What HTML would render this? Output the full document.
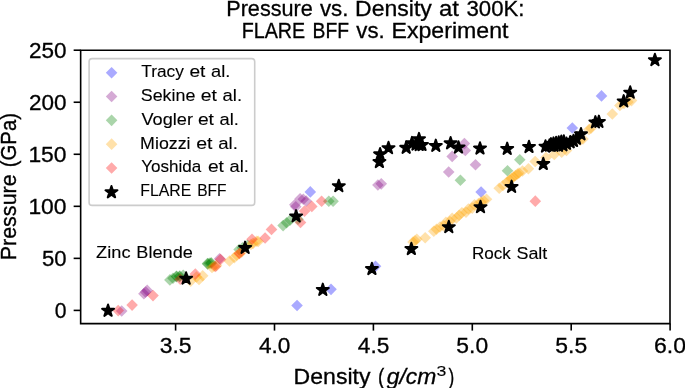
<!DOCTYPE html>
<html><head><meta charset="utf-8"><title>Pressure vs. Density at 300K</title>
<style>html,body{margin:0;padding:0;background:#fff;width:685px;height:388px;overflow:hidden}svg{display:block}text{font-family:"Liberation Sans",sans-serif;will-change:transform;stroke:#000;stroke-width:0.3px}</style>
</head><body>
<svg width="685" height="388" viewBox="0 0 685 388">
<rect width="685" height="388" fill="#fff"/>
<g>
<path d="M297.05 299.65L302.85 305.45L297.05 311.25L291.25 305.45Z" fill="#0000ff" fill-opacity="0.333"/>
<path d="M331.00 283.55L336.80 289.35L331.00 295.15L325.20 289.35Z" fill="#0000ff" fill-opacity="0.333"/>
<path d="M310.30 186.10L316.10 191.90L310.30 197.70L304.50 191.90Z" fill="#0000ff" fill-opacity="0.333"/>
<path d="M375.50 260.55L381.30 266.35L375.50 272.15L369.70 266.35Z" fill="#0000ff" fill-opacity="0.333"/>
<path d="M481.10 186.20L486.90 192.00L481.10 197.80L475.30 192.00Z" fill="#0000ff" fill-opacity="0.333"/>
<path d="M572.30 122.20L578.10 128.00L572.30 133.80L566.50 128.00Z" fill="#0000ff" fill-opacity="0.333"/>
<path d="M601.50 90.10L607.30 95.90L601.50 101.70L595.70 95.90Z" fill="#0000ff" fill-opacity="0.333"/>
<path d="M121.70 305.20L127.50 311.00L121.70 316.80L115.90 311.00Z" fill="#800080" fill-opacity="0.333"/>
<path d="M143.90 288.00L149.70 293.80L143.90 299.60L138.10 293.80Z" fill="#800080" fill-opacity="0.333"/>
<path d="M145.60 286.20L151.40 292.00L145.60 297.80L139.80 292.00Z" fill="#800080" fill-opacity="0.333"/>
<path d="M147.20 284.60L153.00 290.40L147.20 296.20L141.40 290.40Z" fill="#800080" fill-opacity="0.333"/>
<path d="M219.60 252.90L225.40 258.70L219.60 264.50L213.80 258.70Z" fill="#800080" fill-opacity="0.333"/>
<path d="M300.10 193.00L305.90 198.80L300.10 204.60L294.30 198.80Z" fill="#800080" fill-opacity="0.333"/>
<path d="M303.30 193.50L309.10 199.30L303.30 205.10L297.50 199.30Z" fill="#800080" fill-opacity="0.333"/>
<path d="M306.20 195.20L312.00 201.00L306.20 206.80L300.40 201.00Z" fill="#800080" fill-opacity="0.333"/>
<path d="M294.80 198.90L300.60 204.70L294.80 210.50L289.00 204.70Z" fill="#800080" fill-opacity="0.333"/>
<path d="M295.80 201.00L301.60 206.80L295.80 212.60L290.00 206.80Z" fill="#800080" fill-opacity="0.333"/>
<path d="M377.90 179.20L383.70 185.00L377.90 190.80L372.10 185.00Z" fill="#800080" fill-opacity="0.333"/>
<path d="M381.25 178.05L387.05 183.85L381.25 189.65L375.45 183.85Z" fill="#800080" fill-opacity="0.333"/>
<path d="M448.70 166.20L454.50 172.00L448.70 177.80L442.90 172.00Z" fill="#800080" fill-opacity="0.333"/>
<path d="M452.20 150.60L458.00 156.40L452.20 162.20L446.40 156.40Z" fill="#800080" fill-opacity="0.333"/>
<path d="M464.40 137.80L470.20 143.60L464.40 149.40L458.60 143.60Z" fill="#800080" fill-opacity="0.333"/>
<path d="M465.30 144.70L471.10 150.50L465.30 156.30L459.50 150.50Z" fill="#800080" fill-opacity="0.333"/>
<path d="M475.50 158.90L481.30 164.70L475.50 170.50L469.70 164.70Z" fill="#800080" fill-opacity="0.333"/>
<path d="M169.90 274.10L175.70 279.90L169.90 285.70L164.10 279.90Z" fill="#008000" fill-opacity="0.333"/>
<path d="M173.00 272.50L178.80 278.30L173.00 284.10L167.20 278.30Z" fill="#008000" fill-opacity="0.333"/>
<path d="M176.60 270.40L182.40 276.20L176.60 282.00L170.80 276.20Z" fill="#008000" fill-opacity="0.333"/>
<path d="M176.40 270.80L182.20 276.60L176.40 282.40L170.60 276.60Z" fill="#008000" fill-opacity="0.333"/>
<path d="M179.80 270.20L185.60 276.00L179.80 281.80L174.00 276.00Z" fill="#008000" fill-opacity="0.333"/>
<path d="M179.50 270.80L185.30 276.60L179.50 282.40L173.70 276.60Z" fill="#008000" fill-opacity="0.333"/>
<path d="M183.20 269.50L189.00 275.30L183.20 281.10L177.40 275.30Z" fill="#008000" fill-opacity="0.333"/>
<path d="M207.50 257.80L213.30 263.60L207.50 269.40L201.70 263.60Z" fill="#008000" fill-opacity="0.333"/>
<path d="M207.70 258.10L213.50 263.90L207.70 269.70L201.90 263.90Z" fill="#008000" fill-opacity="0.333"/>
<path d="M209.40 257.40L215.20 263.20L209.40 269.00L203.60 263.20Z" fill="#008000" fill-opacity="0.333"/>
<path d="M211.20 257.10L217.00 262.90L211.20 268.70L205.40 262.90Z" fill="#008000" fill-opacity="0.333"/>
<path d="M211.00 257.50L216.80 263.30L211.00 269.10L205.20 263.30Z" fill="#008000" fill-opacity="0.333"/>
<path d="M239.10 243.80L244.90 249.60L239.10 255.40L233.30 249.60Z" fill="#008000" fill-opacity="0.333"/>
<path d="M242.50 242.00L248.30 247.80L242.50 253.60L236.70 247.80Z" fill="#008000" fill-opacity="0.333"/>
<path d="M247.50 239.50L253.30 245.30L247.50 251.10L241.70 245.30Z" fill="#008000" fill-opacity="0.333"/>
<path d="M283.10 219.80L288.90 225.60L283.10 231.40L277.30 225.60Z" fill="#008000" fill-opacity="0.333"/>
<path d="M286.60 217.00L292.40 222.80L286.60 228.60L280.80 222.80Z" fill="#008000" fill-opacity="0.333"/>
<path d="M290.00 214.50L295.80 220.30L290.00 226.10L284.20 220.30Z" fill="#008000" fill-opacity="0.333"/>
<path d="M298.00 213.50L303.80 219.30L298.00 225.10L292.20 219.30Z" fill="#008000" fill-opacity="0.333"/>
<path d="M328.80 195.50L334.60 201.30L328.80 207.10L323.00 201.30Z" fill="#008000" fill-opacity="0.333"/>
<path d="M333.10 195.40L338.90 201.20L333.10 207.00L327.30 201.20Z" fill="#008000" fill-opacity="0.333"/>
<path d="M460.40 174.40L466.20 180.20L460.40 186.00L454.60 180.20Z" fill="#008000" fill-opacity="0.333"/>
<path d="M507.50 164.90L513.30 170.70L507.50 176.50L501.70 170.70Z" fill="#008000" fill-opacity="0.333"/>
<path d="M519.80 153.90L525.60 159.70L519.80 165.50L514.00 159.70Z" fill="#008000" fill-opacity="0.333"/>
<path d="M190.70 275.30L196.50 281.10L190.70 286.90L184.90 281.10Z" fill="#ffa500" fill-opacity="0.333"/>
<path d="M196.50 271.20L202.30 277.00L196.50 282.80L190.70 277.00Z" fill="#ffa500" fill-opacity="0.333"/>
<path d="M202.70 269.90L208.50 275.70L202.70 281.50L196.90 275.70Z" fill="#ffa500" fill-opacity="0.333"/>
<path d="M199.00 273.70L204.80 279.50L199.00 285.30L193.20 279.50Z" fill="#ffa500" fill-opacity="0.333"/>
<path d="M212.00 261.70L217.80 267.50L212.00 273.30L206.20 267.50Z" fill="#ffa500" fill-opacity="0.333"/>
<path d="M214.10 260.40L219.90 266.20L214.10 272.00L208.30 266.20Z" fill="#ffa500" fill-opacity="0.333"/>
<path d="M216.50 259.70L222.30 265.50L216.50 271.30L210.70 265.50Z" fill="#ffa500" fill-opacity="0.333"/>
<path d="M229.50 255.20L235.30 261.00L229.50 266.80L223.70 261.00Z" fill="#ffa500" fill-opacity="0.333"/>
<path d="M234.40 251.80L240.20 257.60L234.40 263.40L228.60 257.60Z" fill="#ffa500" fill-opacity="0.333"/>
<path d="M236.80 249.50L242.60 255.30L236.80 261.10L231.00 255.30Z" fill="#ffa500" fill-opacity="0.333"/>
<path d="M239.40 247.70L245.20 253.50L239.40 259.30L233.60 253.50Z" fill="#ffa500" fill-opacity="0.333"/>
<path d="M241.80 246.20L247.60 252.00L241.80 257.80L236.00 252.00Z" fill="#ffa500" fill-opacity="0.333"/>
<path d="M251.00 238.70L256.80 244.50L251.00 250.30L245.20 244.50Z" fill="#ffa500" fill-opacity="0.333"/>
<path d="M253.00 237.60L258.80 243.40L253.00 249.20L247.20 243.40Z" fill="#ffa500" fill-opacity="0.333"/>
<path d="M256.70 235.40L262.50 241.20L256.70 247.00L250.90 241.20Z" fill="#ffa500" fill-opacity="0.333"/>
<path d="M258.20 235.60L264.00 241.40L258.20 247.20L252.40 241.40Z" fill="#ffa500" fill-opacity="0.333"/>
<path d="M413.00 236.30L418.80 242.10L413.00 247.90L407.20 242.10Z" fill="#ffa500" fill-opacity="0.333"/>
<path d="M415.00 235.00L420.80 240.80L415.00 246.60L409.20 240.80Z" fill="#ffa500" fill-opacity="0.333"/>
<path d="M416.80 233.40L422.60 239.20L416.80 245.00L411.00 239.20Z" fill="#ffa500" fill-opacity="0.333"/>
<path d="M425.20 231.90L431.00 237.70L425.20 243.50L419.40 237.70Z" fill="#ffa500" fill-opacity="0.333"/>
<path d="M433.80 225.50L439.60 231.30L433.80 237.10L428.00 231.30Z" fill="#ffa500" fill-opacity="0.333"/>
<path d="M436.50 223.50L442.30 229.30L436.50 235.10L430.70 229.30Z" fill="#ffa500" fill-opacity="0.333"/>
<path d="M440.00 221.20L445.80 227.00L440.00 232.80L434.20 227.00Z" fill="#ffa500" fill-opacity="0.333"/>
<path d="M443.70 220.10L449.50 225.90L443.70 231.70L437.90 225.90Z" fill="#ffa500" fill-opacity="0.333"/>
<path d="M445.90 216.60L451.70 222.40L445.90 228.20L440.10 222.40Z" fill="#ffa500" fill-opacity="0.333"/>
<path d="M449.90 215.80L455.70 221.60L449.90 227.40L444.10 221.60Z" fill="#ffa500" fill-opacity="0.333"/>
<path d="M452.20 212.50L458.00 218.30L452.20 224.10L446.40 218.30Z" fill="#ffa500" fill-opacity="0.333"/>
<path d="M456.40 212.20L462.20 218.00L456.40 223.80L450.60 218.00Z" fill="#ffa500" fill-opacity="0.333"/>
<path d="M459.10 209.50L464.90 215.30L459.10 221.10L453.30 215.30Z" fill="#ffa500" fill-opacity="0.333"/>
<path d="M461.90 206.90L467.70 212.70L461.90 218.50L456.10 212.70Z" fill="#ffa500" fill-opacity="0.333"/>
<path d="M466.00 206.50L471.80 212.30L466.00 218.10L460.20 212.30Z" fill="#ffa500" fill-opacity="0.333"/>
<path d="M468.40 203.20L474.20 209.00L468.40 214.80L462.60 209.00Z" fill="#ffa500" fill-opacity="0.333"/>
<path d="M472.20 202.30L478.00 208.10L472.20 213.90L466.40 208.10Z" fill="#ffa500" fill-opacity="0.333"/>
<path d="M474.50 198.90L480.30 204.70L474.50 210.50L468.70 204.70Z" fill="#ffa500" fill-opacity="0.333"/>
<path d="M478.50 197.70L484.30 203.50L478.50 209.30L472.70 203.50Z" fill="#ffa500" fill-opacity="0.333"/>
<path d="M481.00 196.20L486.80 202.00L481.00 207.80L475.20 202.00Z" fill="#ffa500" fill-opacity="0.333"/>
<path d="M483.50 194.70L489.30 200.50L483.50 206.30L477.70 200.50Z" fill="#ffa500" fill-opacity="0.333"/>
<path d="M486.50 193.50L492.30 199.30L486.50 205.10L480.70 199.30Z" fill="#ffa500" fill-opacity="0.333"/>
<path d="M499.20 182.50L505.00 188.30L499.20 194.10L493.40 188.30Z" fill="#ffa500" fill-opacity="0.333"/>
<path d="M503.00 179.70L508.80 185.50L503.00 191.30L497.20 185.50Z" fill="#ffa500" fill-opacity="0.333"/>
<path d="M507.00 176.20L512.80 182.00L507.00 187.80L501.20 182.00Z" fill="#ffa500" fill-opacity="0.333"/>
<path d="M509.50 174.20L515.30 180.00L509.50 185.80L503.70 180.00Z" fill="#ffa500" fill-opacity="0.333"/>
<path d="M511.50 172.70L517.30 178.50L511.50 184.30L505.70 178.50Z" fill="#ffa500" fill-opacity="0.333"/>
<path d="M513.50 171.20L519.30 177.00L513.50 182.80L507.70 177.00Z" fill="#ffa500" fill-opacity="0.333"/>
<path d="M515.50 169.70L521.30 175.50L515.50 181.30L509.70 175.50Z" fill="#ffa500" fill-opacity="0.333"/>
<path d="M517.50 168.20L523.30 174.00L517.50 179.80L511.70 174.00Z" fill="#ffa500" fill-opacity="0.333"/>
<path d="M519.00 167.20L524.80 173.00L519.00 178.80L513.20 173.00Z" fill="#ffa500" fill-opacity="0.333"/>
<path d="M522.50 165.20L528.30 171.00L522.50 176.80L516.70 171.00Z" fill="#ffa500" fill-opacity="0.333"/>
<path d="M528.40 163.00L534.20 168.80L528.40 174.60L522.60 168.80Z" fill="#ffa500" fill-opacity="0.333"/>
<path d="M535.20 155.70L541.00 161.50L535.20 167.30L529.40 161.50Z" fill="#ffa500" fill-opacity="0.333"/>
<path d="M546.00 151.70L551.80 157.50L546.00 163.30L540.20 157.50Z" fill="#ffa500" fill-opacity="0.333"/>
<path d="M554.30 148.70L560.10 154.50L554.30 160.30L548.50 154.50Z" fill="#ffa500" fill-opacity="0.333"/>
<path d="M561.70 146.50L567.50 152.30L561.70 158.10L555.90 152.30Z" fill="#ffa500" fill-opacity="0.333"/>
<path d="M566.50 144.70L572.30 150.50L566.50 156.30L560.70 150.50Z" fill="#ffa500" fill-opacity="0.333"/>
<path d="M580.30 134.50L586.10 140.30L580.30 146.10L574.50 140.30Z" fill="#ffa500" fill-opacity="0.333"/>
<path d="M583.00 133.20L588.80 139.00L583.00 144.80L577.20 139.00Z" fill="#ffa500" fill-opacity="0.333"/>
<path d="M589.00 123.70L594.80 129.50L589.00 135.30L583.20 129.50Z" fill="#ffa500" fill-opacity="0.333"/>
<path d="M591.00 122.50L596.80 128.30L591.00 134.10L585.20 128.30Z" fill="#ffa500" fill-opacity="0.333"/>
<path d="M612.30 108.20L618.10 114.00L612.30 119.80L606.50 114.00Z" fill="#ffa500" fill-opacity="0.333"/>
<path d="M619.90 99.70L625.70 105.50L619.90 111.30L614.10 105.50Z" fill="#ffa500" fill-opacity="0.333"/>
<path d="M624.00 97.70L629.80 103.50L624.00 109.30L618.20 103.50Z" fill="#ffa500" fill-opacity="0.333"/>
<path d="M628.00 96.20L633.80 102.00L628.00 107.80L622.20 102.00Z" fill="#ffa500" fill-opacity="0.333"/>
<path d="M631.50 94.80L637.30 100.60L631.50 106.40L625.70 100.60Z" fill="#ffa500" fill-opacity="0.333"/>
<path d="M118.20 304.80L124.00 310.60L118.20 316.40L112.40 310.60Z" fill="#ff0000" fill-opacity="0.333"/>
<path d="M132.10 299.30L137.90 305.10L132.10 310.90L126.30 305.10Z" fill="#ff0000" fill-opacity="0.333"/>
<path d="M153.00 289.80L158.80 295.60L153.00 301.40L147.20 295.60Z" fill="#ff0000" fill-opacity="0.333"/>
<path d="M180.20 273.40L186.00 279.20L180.20 285.00L174.40 279.20Z" fill="#ff0000" fill-opacity="0.333"/>
<path d="M195.30 268.30L201.10 274.10L195.30 279.90L189.50 274.10Z" fill="#ff0000" fill-opacity="0.333"/>
<path d="M215.50 260.70L221.30 266.50L215.50 272.30L209.70 266.50Z" fill="#ff0000" fill-opacity="0.333"/>
<path d="M220.50 253.70L226.30 259.50L220.50 265.30L214.70 259.50Z" fill="#ff0000" fill-opacity="0.333"/>
<path d="M239.40 247.70L245.20 253.50L239.40 259.30L233.60 253.50Z" fill="#ff0000" fill-opacity="0.333"/>
<path d="M252.00 233.50L257.80 239.30L252.00 245.10L246.20 239.30Z" fill="#ff0000" fill-opacity="0.333"/>
<path d="M265.10 232.20L270.90 238.00L265.10 243.80L259.30 238.00Z" fill="#ff0000" fill-opacity="0.333"/>
<path d="M271.50 223.60L277.30 229.40L271.50 235.20L265.70 229.40Z" fill="#ff0000" fill-opacity="0.333"/>
<path d="M300.50 216.70L306.30 222.50L300.50 228.30L294.70 222.50Z" fill="#ff0000" fill-opacity="0.333"/>
<path d="M304.60 205.30L310.40 211.10L304.60 216.90L298.80 211.10Z" fill="#ff0000" fill-opacity="0.333"/>
<path d="M311.80 200.60L317.60 206.40L311.80 212.20L306.00 206.40Z" fill="#ff0000" fill-opacity="0.333"/>
<path d="M321.60 195.50L327.40 201.30L321.60 207.10L315.80 201.30Z" fill="#ff0000" fill-opacity="0.333"/>
<path d="M535.30 195.35L541.10 201.15L535.30 206.95L529.50 201.15Z" fill="#ff0000" fill-opacity="0.333"/>
</g>
<g fill="#000" stroke="#000" stroke-width="2.0" stroke-linejoin="round">
<path d="M108.05 304.45L109.46 308.80L114.04 308.80L110.34 311.49L111.75 315.85L108.05 313.16L104.35 315.85L105.76 311.49L102.06 308.80L106.64 308.80Z"/>
<path d="M186.10 272.30L187.51 276.65L192.09 276.65L188.39 279.34L189.80 283.70L186.10 281.01L182.40 283.70L183.81 279.34L180.11 276.65L184.69 276.65Z"/>
<path d="M245.10 241.60L246.51 245.95L251.09 245.95L247.39 248.64L248.80 253.00L245.10 250.31L241.40 253.00L242.81 248.64L239.11 245.95L243.69 245.95Z"/>
<path d="M296.10 210.10L297.51 214.45L302.09 214.45L298.39 217.14L299.80 221.50L296.10 218.81L292.40 221.50L293.81 217.14L290.11 214.45L294.69 214.45Z"/>
<path d="M338.80 179.80L340.21 184.15L344.79 184.15L341.09 186.84L342.50 191.20L338.80 188.51L335.10 191.20L336.51 186.84L332.81 184.15L337.39 184.15Z"/>
<path d="M322.80 283.60L324.21 287.95L328.79 287.95L325.09 290.64L326.50 295.00L322.80 292.31L319.10 295.00L320.51 290.64L316.81 287.95L321.39 287.95Z"/>
<path d="M371.90 262.70L373.31 267.05L377.89 267.05L374.19 269.74L375.60 274.10L371.90 271.41L368.20 274.10L369.61 269.74L365.91 267.05L370.49 267.05Z"/>
<path d="M411.35 242.70L412.76 247.05L417.34 247.05L413.64 249.74L415.05 254.10L411.35 251.41L407.65 254.10L409.06 249.74L405.36 247.05L409.94 247.05Z"/>
<path d="M448.80 220.80L450.21 225.15L454.79 225.15L451.09 227.84L452.50 232.20L448.80 229.51L445.10 232.20L446.51 227.84L442.81 225.15L447.39 225.15Z"/>
<path d="M480.50 200.80L481.91 205.15L486.49 205.15L482.79 207.84L484.20 212.20L480.50 209.51L476.80 212.20L478.21 207.84L474.51 205.15L479.09 205.15Z"/>
<path d="M511.60 180.60L513.01 184.95L517.59 184.95L513.89 187.64L515.30 192.00L511.60 189.31L507.90 192.00L509.31 187.64L505.61 184.95L510.19 184.95Z"/>
<path d="M543.30 157.70L544.71 162.05L549.29 162.05L545.59 164.74L547.00 169.10L543.30 166.41L539.60 169.10L541.01 164.74L537.31 162.05L541.89 162.05Z"/>
<path d="M379.40 155.70L380.81 160.05L385.39 160.05L381.69 162.74L383.10 167.10L379.40 164.41L375.70 167.10L377.11 162.74L373.41 160.05L377.99 160.05Z"/>
<path d="M380.10 148.00L381.51 152.35L386.09 152.35L382.39 155.04L383.80 159.40L380.10 156.71L376.40 159.40L377.81 155.04L374.11 152.35L378.69 152.35Z"/>
<path d="M388.50 141.80L389.91 146.15L394.49 146.15L390.79 148.84L392.20 153.20L388.50 150.51L384.80 153.20L386.21 148.84L382.51 146.15L387.09 146.15Z"/>
<path d="M406.20 141.50L407.61 145.85L412.19 145.85L408.49 148.54L409.90 152.90L406.20 150.21L402.50 152.90L403.91 148.54L400.21 145.85L404.79 145.85Z"/>
<path d="M412.00 136.90L413.41 141.25L417.99 141.25L414.29 143.94L415.70 148.30L412.00 145.61L408.30 148.30L409.71 143.94L406.01 141.25L410.59 141.25Z"/>
<path d="M416.00 138.20L417.41 142.55L421.99 142.55L418.29 145.24L419.70 149.60L416.00 146.91L412.30 149.60L413.71 145.24L410.01 142.55L414.59 142.55Z"/>
<path d="M419.00 132.90L420.41 137.25L424.99 137.25L421.29 139.94L422.70 144.30L419.00 141.61L415.30 144.30L416.71 139.94L413.01 137.25L417.59 137.25Z"/>
<path d="M419.20 138.70L420.61 143.05L425.19 143.05L421.49 145.74L422.90 150.10L419.20 147.41L415.50 150.10L416.91 145.74L413.21 143.05L417.79 143.05Z"/>
<path d="M422.00 138.70L423.41 143.05L427.99 143.05L424.29 145.74L425.70 150.10L422.00 147.41L418.30 150.10L419.71 145.74L416.01 143.05L420.59 143.05Z"/>
<path d="M435.80 139.60L437.21 143.95L441.79 143.95L438.09 146.64L439.50 151.00L435.80 148.31L432.10 151.00L433.51 146.64L429.81 143.95L434.39 143.95Z"/>
<path d="M450.60 137.00L452.01 141.35L456.59 141.35L452.89 144.04L454.30 148.40L450.60 145.71L446.90 148.40L448.31 144.04L444.61 141.35L449.19 141.35Z"/>
<path d="M458.50 141.20L459.91 145.55L464.49 145.55L460.79 148.24L462.20 152.60L458.50 149.91L454.80 152.60L456.21 148.24L452.51 145.55L457.09 145.55Z"/>
<path d="M480.00 142.20L481.41 146.55L485.99 146.55L482.29 149.24L483.70 153.60L480.00 150.91L476.30 153.60L477.71 149.24L474.01 146.55L478.59 146.55Z"/>
<path d="M507.20 142.60L508.61 146.95L513.19 146.95L509.49 149.64L510.90 154.00L507.20 151.31L503.50 154.00L504.91 149.64L501.21 146.95L505.79 146.95Z"/>
<path d="M529.00 140.70L530.41 145.05L534.99 145.05L531.29 147.74L532.70 152.10L529.00 149.41L525.30 152.10L526.71 147.74L523.01 145.05L527.59 145.05Z"/>
<path d="M545.50 140.30L546.91 144.65L551.49 144.65L547.79 147.34L549.20 151.70L545.50 149.01L541.80 151.70L543.21 147.34L539.51 144.65L544.09 144.65Z"/>
<path d="M551.00 138.10L552.41 142.45L556.99 142.45L553.29 145.14L554.70 149.50L551.00 146.81L547.30 149.50L548.71 145.14L545.01 142.45L549.59 142.45Z"/>
<path d="M553.50 137.40L554.91 141.75L559.49 141.75L555.79 144.44L557.20 148.80L553.50 146.11L549.80 148.80L551.21 144.44L547.51 141.75L552.09 141.75Z"/>
<path d="M556.10 136.80L557.51 141.15L562.09 141.15L558.39 143.84L559.80 148.20L556.10 145.51L552.40 148.20L553.81 143.84L550.11 141.15L554.69 141.15Z"/>
<path d="M558.70 136.20L560.11 140.55L564.69 140.55L560.99 143.24L562.40 147.60L558.70 144.91L555.00 147.60L556.41 143.24L552.71 140.55L557.29 140.55Z"/>
<path d="M561.30 135.50L562.71 139.85L567.29 139.85L563.59 142.54L565.00 146.90L561.30 144.21L557.60 146.90L559.01 142.54L555.31 139.85L559.89 139.85Z"/>
<path d="M563.80 135.20L565.21 139.55L569.79 139.55L566.09 142.24L567.50 146.60L563.80 143.91L560.10 146.60L561.51 142.24L557.81 139.55L562.39 139.55Z"/>
<path d="M549.50 139.40L550.91 143.75L555.49 143.75L551.79 146.44L553.20 150.80L549.50 148.11L545.80 150.80L547.21 146.44L543.51 143.75L548.09 143.75Z"/>
<path d="M554.00 139.50L555.41 143.85L559.99 143.85L556.29 146.54L557.70 150.90L554.00 148.21L550.30 150.90L551.71 146.54L548.01 143.85L552.59 143.85Z"/>
<path d="M558.50 139.50L559.91 143.85L564.49 143.85L560.79 146.54L562.20 150.90L558.50 148.21L554.80 150.90L556.21 146.54L552.51 143.85L557.09 143.85Z"/>
<path d="M563.00 139.00L564.41 143.35L568.99 143.35L565.29 146.04L566.70 150.40L563.00 147.71L559.30 150.40L560.71 146.04L557.01 143.35L561.59 143.35Z"/>
<path d="M566.50 137.50L567.91 141.85L572.49 141.85L568.79 144.54L570.20 148.90L566.50 146.21L562.80 148.90L564.21 144.54L560.51 141.85L565.09 141.85Z"/>
<path d="M570.20 136.00L571.61 140.35L576.19 140.35L572.49 143.04L573.90 147.40L570.20 144.71L566.50 147.40L567.91 143.04L564.21 140.35L568.79 140.35Z"/>
<path d="M573.50 134.70L574.91 139.05L579.49 139.05L575.79 141.74L577.20 146.10L573.50 143.41L569.80 146.10L571.21 141.74L567.51 139.05L572.09 139.05Z"/>
<path d="M576.50 132.50L577.91 136.85L582.49 136.85L578.79 139.54L580.20 143.90L576.50 141.21L572.80 143.90L574.21 139.54L570.51 136.85L575.09 136.85Z"/>
<path d="M581.00 128.00L582.41 132.35L586.99 132.35L583.29 135.04L584.70 139.40L581.00 136.71L577.30 139.40L578.71 135.04L575.01 132.35L579.59 132.35Z"/>
<path d="M595.40 116.10L596.81 120.45L601.39 120.45L597.69 123.14L599.10 127.50L595.40 124.81L591.70 127.50L593.11 123.14L589.41 120.45L593.99 120.45Z"/>
<path d="M598.90 115.60L600.31 119.95L604.89 119.95L601.19 122.64L602.60 127.00L598.90 124.31L595.20 127.00L596.61 122.64L592.91 119.95L597.49 119.95Z"/>
<path d="M623.70 95.10L625.11 99.45L629.69 99.45L625.99 102.14L627.40 106.50L623.70 103.81L620.00 106.50L621.41 102.14L617.71 99.45L622.29 99.45Z"/>
<path d="M630.20 86.30L631.61 90.65L636.19 90.65L632.49 93.34L633.90 97.70L630.20 95.01L626.50 97.70L627.91 93.34L624.21 90.65L628.79 90.65Z"/>
<path d="M654.90 53.80L656.31 58.15L660.89 58.15L657.19 60.84L658.60 65.20L654.90 62.51L651.20 65.20L652.61 60.84L648.91 58.15L653.49 58.15Z"/>
</g>
<g fill="none" stroke="#000" stroke-width="1.6" stroke-linecap="square">
<path d="M80.65 323.6L80.65 50.2L670.0 50.2L670.0 323.6Z" stroke-linejoin="miter"/>
</g>
<g stroke="#000" stroke-width="1.6">
<line x1="175.60" y1="323.6" x2="175.60" y2="330.6"/>
<line x1="274.50" y1="323.6" x2="274.50" y2="330.6"/>
<line x1="373.40" y1="323.6" x2="373.40" y2="330.6"/>
<line x1="472.30" y1="323.6" x2="472.30" y2="330.6"/>
<line x1="571.20" y1="323.6" x2="571.20" y2="330.6"/>
<line x1="670.10" y1="323.6" x2="670.10" y2="330.6"/>
<line x1="80.65" y1="310.40" x2="73.65" y2="310.40"/>
<line x1="80.65" y1="258.36" x2="73.65" y2="258.36"/>
<line x1="80.65" y1="206.32" x2="73.65" y2="206.32"/>
<line x1="80.65" y1="154.28" x2="73.65" y2="154.28"/>
<line x1="80.65" y1="102.24" x2="73.65" y2="102.24"/>
<line x1="80.65" y1="50.20" x2="73.65" y2="50.20"/>
</g>
<g font-family="Liberation Sans, sans-serif" fill="#000">
<text x="54.75" y="317.70" font-size="21.2" textLength="11.77" lengthAdjust="spacingAndGlyphs">0</text>
<text x="41.97" y="265.66" font-size="21.2" textLength="24.59" lengthAdjust="spacingAndGlyphs">50</text>
<text x="28.40" y="213.62" font-size="21.2" textLength="38.20" lengthAdjust="spacingAndGlyphs">100</text>
<text x="28.40" y="161.58" font-size="21.2" textLength="38.20" lengthAdjust="spacingAndGlyphs">150</text>
<text x="29.01" y="109.54" font-size="21.2" textLength="37.57" lengthAdjust="spacingAndGlyphs">200</text>
<text x="29.01" y="57.50" font-size="21.2" textLength="37.57" lengthAdjust="spacingAndGlyphs">250</text>
<text x="159.73" y="352.80" font-size="21.2" textLength="31.83" lengthAdjust="spacingAndGlyphs">3.5</text>
<text x="258.98" y="352.80" font-size="21.2" textLength="31.40" lengthAdjust="spacingAndGlyphs">4.0</text>
<text x="357.88" y="352.80" font-size="21.2" textLength="31.47" lengthAdjust="spacingAndGlyphs">4.5</text>
<text x="456.38" y="352.80" font-size="21.2" textLength="31.81" lengthAdjust="spacingAndGlyphs">5.0</text>
<text x="555.28" y="352.80" font-size="21.2" textLength="31.88" lengthAdjust="spacingAndGlyphs">5.5</text>
<text x="653.93" y="352.80" font-size="21.2" textLength="32.07" lengthAdjust="spacingAndGlyphs">6.0</text>
<text x="226.22" y="15.50" font-size="21.2" textLength="86.59" lengthAdjust="spacingAndGlyphs">Pressure</text>
<text x="319.94" y="15.50" font-size="21.2" textLength="28.43" lengthAdjust="spacingAndGlyphs">vs.</text>
<text x="355.12" y="15.50" font-size="21.2" textLength="76.73" lengthAdjust="spacingAndGlyphs">Density</text>
<text x="439.08" y="15.50" font-size="21.2" textLength="19.94" lengthAdjust="spacingAndGlyphs">at</text>
<text x="466.51" y="15.50" font-size="21.2" textLength="58.01" lengthAdjust="spacingAndGlyphs">300K:</text>
<text x="241.68" y="37.60" font-size="21.2" textLength="63.50" lengthAdjust="spacingAndGlyphs">FLARE</text>
<text x="312.50" y="37.60" font-size="21.2" textLength="36.50" lengthAdjust="spacingAndGlyphs">BFF</text>
<text x="356.39" y="37.60" font-size="21.2" textLength="28.37" lengthAdjust="spacingAndGlyphs">vs.</text>
<text x="391.49" y="37.60" font-size="21.2" textLength="116.98" lengthAdjust="spacingAndGlyphs">Experiment</text>
<text x="293.61" y="383.70" font-size="21.2" textLength="76.84" lengthAdjust="spacingAndGlyphs">Density</text>
<text x="378.03" y="383.70" font-size="21.2" textLength="6.28" lengthAdjust="spacingAndGlyphs">(</text>
<text x="386.76" y="383.70" font-size="21.2" textLength="49.61" lengthAdjust="spacingAndGlyphs" font-style="italic">g/cm</text>
<text x="436.43" y="376.40" font-size="14.6" textLength="9.85" lengthAdjust="spacingAndGlyphs" style="stroke-width:0.12px">3</text>
<text x="448.50" y="383.70" font-size="21.2" textLength="5.78" lengthAdjust="spacingAndGlyphs">)</text>
<g transform="translate(16.0 0) rotate(-90)">
<text x="-260.36" y="0.00" font-size="21.2" textLength="86.08" lengthAdjust="spacingAndGlyphs">Pressure</text>
<text x="-167.25" y="0.00" font-size="21.2" textLength="54.21" lengthAdjust="spacingAndGlyphs">(GPa)</text>
</g>
<text x="96.12" y="258.00" font-size="17" textLength="34.40" lengthAdjust="spacingAndGlyphs" style="stroke-width:0.12px">Zinc</text>
<text x="136.37" y="258.00" font-size="17" textLength="56.43" lengthAdjust="spacingAndGlyphs" style="stroke-width:0.12px">Blende</text>
<text x="472.00" y="258.50" font-size="17" textLength="38.89" lengthAdjust="spacingAndGlyphs" style="stroke-width:0.12px">Rock</text>
<text x="516.44" y="258.50" font-size="17" textLength="30.89" lengthAdjust="spacingAndGlyphs" style="stroke-width:0.12px">Salt</text>
</g>
<rect x="89.1" y="58.6" width="165.6" height="146.8" rx="3" ry="3" fill="#fff" fill-opacity="0.8" stroke="#cccccc" stroke-width="1.6"/>
<path d="M111.60 66.90L117.40 72.70L111.60 78.50L105.80 72.70Z" fill="#0000ff" fill-opacity="0.333"/>
<path d="M111.60 90.72L117.40 96.52L111.60 102.32L105.80 96.52Z" fill="#800080" fill-opacity="0.333"/>
<path d="M111.60 114.54L117.40 120.34L111.60 126.14L105.80 120.34Z" fill="#008000" fill-opacity="0.333"/>
<path d="M111.60 138.36L117.40 144.16L111.60 149.96L105.80 144.16Z" fill="#ffa500" fill-opacity="0.333"/>
<path d="M111.60 162.18L117.40 167.98L111.60 173.78L105.80 167.98Z" fill="#ff0000" fill-opacity="0.333"/>
<path d="M111.45 185.95L112.86 190.30L117.44 190.30L113.74 192.99L115.15 197.35L111.45 194.66L107.75 197.35L109.16 192.99L105.46 190.30L110.04 190.30Z" fill="#000" stroke="#000" stroke-width="2.0" stroke-linejoin="round"/>
<g font-family="Liberation Sans, sans-serif" fill="#000">
<text x="141.22" y="77.10" font-size="17" textLength="42.58" lengthAdjust="spacingAndGlyphs" style="stroke-width:0.12px">Tracy</text>
<text x="189.48" y="77.10" font-size="17" textLength="15.99" lengthAdjust="spacingAndGlyphs" style="stroke-width:0.12px">et</text>
<text x="211.07" y="77.10" font-size="17" textLength="19.30" lengthAdjust="spacingAndGlyphs" style="stroke-width:0.12px">al.</text>
<text x="140.79" y="100.92" font-size="17" textLength="54.61" lengthAdjust="spacingAndGlyphs" style="stroke-width:0.12px">Sekine</text>
<text x="200.76" y="100.92" font-size="17" textLength="16.16" lengthAdjust="spacingAndGlyphs" style="stroke-width:0.12px">et</text>
<text x="222.58" y="100.92" font-size="17" textLength="19.51" lengthAdjust="spacingAndGlyphs" style="stroke-width:0.12px">al.</text>
<text x="141.52" y="124.74" font-size="17" textLength="51.47" lengthAdjust="spacingAndGlyphs" style="stroke-width:0.12px">Vogler</text>
<text x="197.93" y="124.74" font-size="17" textLength="16.01" lengthAdjust="spacingAndGlyphs" style="stroke-width:0.12px">et</text>
<text x="219.54" y="124.74" font-size="17" textLength="19.33" lengthAdjust="spacingAndGlyphs" style="stroke-width:0.12px">al.</text>
<text x="140.14" y="148.56" font-size="17" textLength="50.38" lengthAdjust="spacingAndGlyphs" style="stroke-width:0.12px">Miozzi</text>
<text x="196.20" y="148.56" font-size="17" textLength="16.31" lengthAdjust="spacingAndGlyphs" style="stroke-width:0.12px">et</text>
<text x="218.22" y="148.56" font-size="17" textLength="19.69" lengthAdjust="spacingAndGlyphs" style="stroke-width:0.12px">al.</text>
<text x="141.24" y="172.38" font-size="17" textLength="60.03" lengthAdjust="spacingAndGlyphs" style="stroke-width:0.12px">Yoshida</text>
<text x="207.96" y="172.38" font-size="17" textLength="16.00" lengthAdjust="spacingAndGlyphs" style="stroke-width:0.12px">et</text>
<text x="229.56" y="172.38" font-size="17" textLength="19.31" lengthAdjust="spacingAndGlyphs" style="stroke-width:0.12px">al.</text>
<text x="140.30" y="196.20" font-size="17" textLength="51.08" lengthAdjust="spacingAndGlyphs" style="stroke-width:0.12px">FLARE</text>
<text x="197.26" y="196.20" font-size="17" textLength="29.36" lengthAdjust="spacingAndGlyphs" style="stroke-width:0.12px">BFF</text>
</g>
</svg>
</body></html>
